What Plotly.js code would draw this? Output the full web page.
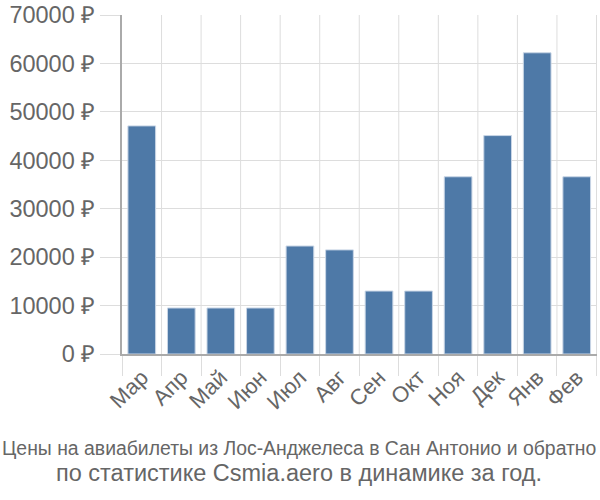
<!DOCTYPE html>
<html>
<head>
<meta charset="utf-8">
<script src="https://cdn.plot.ly/plotly-3.0.1.min.js"></script>
<style>
  html, body { margin: 0; padding: 0; background: #fff; }
  #chart { width: 600px; height: 500px; }
</style>
</head>
<body>
<div id="chart"></div>
<script>
const months = ["Мар", "Апр", "Май", "Июн", "Июл", "Авг", "Сен", "Окт", "Ноя", "Дек", "Янв", "Фев"];
const prices = [47100, 9500, 9500, 9500, 22300, 21500, 13000, 13000, 36600, 45100, 62200, 36600];
const yTicks = [0, 10000, 20000, 30000, 40000, 50000, 60000, 70000];
const yTickText = yTicks.map(v => `${v} ₽`);

const bars = {
    x: months,
    y: prices,
    type: "bar",
    marker: {
        color: "#4e79a7",
        line: { color: "#c9d6e6", width: 1 },
    },
};

// vertical grid lines between the months
const boundaryLines = months.map((m, i) => ({
    type: "line",
    xref: "x",
    yref: "paper",
    x0: i + 0.5,
    x1: i + 0.5,
    y0: 0,
    y1: 1,
    line: { color: "#ddd", width: 1 },
    layer: "below",
}));

const layout = {
    width: 600,
    height: 500,
    margin: { l: 122, r: 3, t: 15, b: 146 },
    paper_bgcolor: "#fff",
    plot_bgcolor: "#fff",
    bargap: 0.3,
    showlegend: false,
    font: { family: "Liberation Sans, Arial, sans-serif", color: "#666", size: 22 },
    xaxis: {
        tickangle: -45,
        showgrid: false,
        ticks: "outside",
        ticklen: 20,
        tickcolor: "#ddd",
        tickson: "boundaries",
        showline: true,
        linecolor: "#aaa",
        linewidth: 2,
        tickfont: { size: 22, color: "#666" },
    },
    yaxis: {
        range: [0, 70000],
        tickvals: yTicks,
        ticktext: yTickText,
        ticks: "outside",
        ticklen: 20,
        tickcolor: "#ddd",
        gridcolor: "#ddd",
        gridwidth: 1,
        zeroline: false,
        showline: true,
        linecolor: "#aaa",
        linewidth: 2,
        tickfont: { size: 23.5, color: "#666" },
    },
    shapes: boundaryLines,
    annotations: [
        {
            text: "Цены на авиабилеты из Лос-Анджелеса в Сан Антонио и обратно",
            xref: "paper", yref: "paper",
            x: 0.5, y: -0.277,
            xshift: -61,
            xanchor: "center", yanchor: "middle",
            showarrow: false,
            font: { size: 19.4, color: "#666" },
        },
        {
            text: "по статистике Csmia.aero в динамике за год.",
            xref: "paper", yref: "paper",
            x: 0.5, y: -0.351,
            xshift: -61,
            xanchor: "center", yanchor: "middle",
            showarrow: false,
            font: { size: 23.5, color: "#666" },
        },
    ],
};

Plotly.newPlot("chart", [bars], layout, { displayModeBar: false, staticPlot: true });
</script>
</body>
</html>
